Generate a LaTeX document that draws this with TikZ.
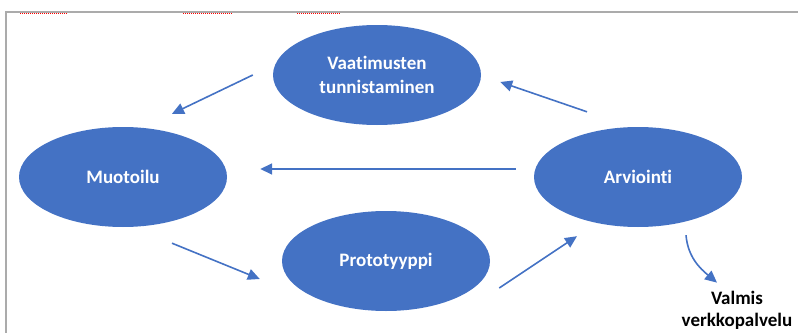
\documentclass[tikz,border=0pt]{standalone}
\usepackage{fontspec}
\setmainfont{Carlito}[Ligatures=NoCommon]
\usetikzlibrary{shapes,arrows.meta,positioning}
\definecolor{phaseblue}{RGB}{68,114,196}
\definecolor{framegray}{RGB}{171,171,171}

\begin{document}
\begin{tikzpicture}[
    x=1pt, y=1pt,
    node distance=102pt,
    >={Triangle[length=12pt,width=11pt]},
    phase node/.style={ellipse,fill=phaseblue,text=white,minimum width=208pt,minimum height=100pt,inner sep=0pt,align=center,font=\fontsize{19}{24}\selectfont\bfseries},
    end node/.style={align=center,text=black,inner sep=0pt,font=\fontsize{19}{22}\selectfont\bfseries},
    link/.style={->,draw=phaseblue,line width=1.6pt}
]
\useasboundingbox (0,0) rectangle (798,333);

% Frame
\draw[framegray,line width=1.5pt] (798,321) -- (6,321) -- (6,0);
\draw[red,densely dotted,line width=1pt] (20,319) -- (68,319) (183,319) -- (232,319) (297,319) -- (340,319);

% Phases
\node[phase node] (vaat) at (377,258) {Vaatimusten\\tunnistaminen};
\node[phase node, below of=vaat, xshift=-254pt] (muot) {Muotoilu};
\node[phase node, below of=vaat, xshift=261pt] (arv) {Arviointi};
\node[phase node, below of=vaat, xshift=9pt, yshift=-84pt] (prot) {Prototyyppi};

% Result
\node[end node, below of=arv, node distance=133pt, xshift=99pt] (done) {Valmis\\verkkopalvelu};

% Arrows
\draw[link] ([xshift=-20pt]vaat.west) -- ([xshift=49pt,yshift=13pt]muot.north);
\draw[link] ([xshift=-51pt,yshift=15pt]arv.north) -- ([xshift=19pt,yshift=-7pt]vaat.east);
\draw[link] ([xshift=-18pt,yshift=8pt]arv.west) -- ([xshift=33pt,yshift=8pt]muot.east);
\draw[link] ([xshift=49pt,yshift=-16pt]muot.south) -- ([xshift=-22pt,yshift=-18pt]prot.west);
\draw[link] ([xshift=9pt,yshift=-27pt]prot.east) -- ([xshift=-61pt,yshift=-9pt]arv.south);
\draw[link] ([xshift=48pt,yshift=-8pt]arv.south) to[out=-85,in=140] ([xshift=-20pt,yshift=8pt]done.north);

\end{tikzpicture}
\end{document}
